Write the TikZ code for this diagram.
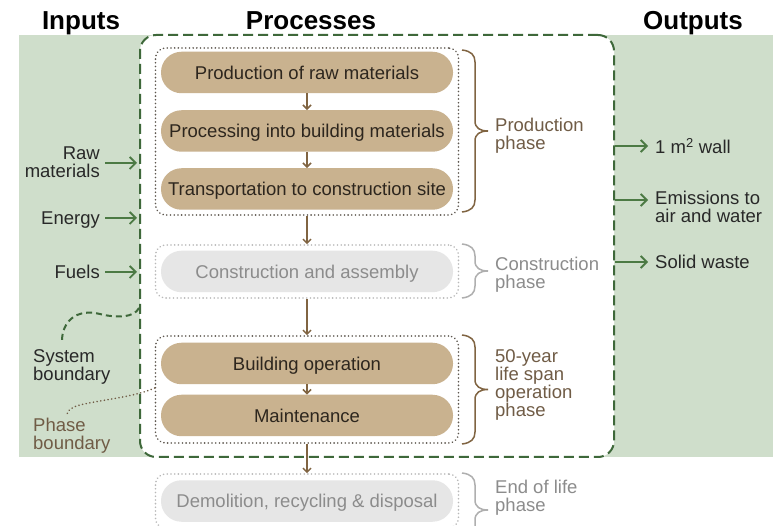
\documentclass[tikz,border=0pt]{standalone}
\usepackage{fontspec}
\setmainfont{Liberation Sans}
\usetikzlibrary{arrows.meta,calc}
\definecolor{bggreen}{RGB}{207,222,203}
\definecolor{sysgreen}{RGB}{62,104,58}
\definecolor{arrowgreen}{RGB}{76,122,68}
\definecolor{tanfill}{RGB}{201,178,143}
\definecolor{pilltext}{RGB}{45,38,30}
\definecolor{flowbrown}{RGB}{128,100,66}
\definecolor{phasebrown}{RGB}{112,92,70}
\definecolor{dotdark}{RGB}{95,88,80}
\definecolor{dotlight}{RGB}{185,185,185}
\definecolor{grayfill}{RGB}{230,230,230}
\definecolor{graytext}{RGB}{140,140,140}
\definecolor{graybrace}{RGB}{175,175,175}
\definecolor{darktext}{RGB}{40,40,40}
\newcommand\phbrace[3]{%
  \draw[#1, line width=1.5pt]
    (462,#2) .. controls (471,{#2+1}) and (475,{#2+5}) .. (475,{#2+12})
    -- (475,{(#2+#3)/2-10}) .. controls (475,{(#2+#3)/2-3}) and (480,{(#2+#3)/2}) .. (488,{(#2+#3)/2})
    .. controls (480,{(#2+#3)/2}) and (475,{(#2+#3)/2+3}) .. (475,{(#2+#3)/2+10})
    -- (475,{#3-12}) .. controls (475,{#3-5}) and (471,{#3-1}) .. (462,#3);}
\begin{document}
\begin{tikzpicture}[x=1pt,y=-1pt,
  txt/.style={font=\fontsize{18.5}{18}\selectfont, inner sep=0pt, text=darktext},
  hdr/.style={font=\fontsize{26}{28}\selectfont\bfseries, inner sep=0pt, anchor=base},
  pill/.style={txt, rectangle, rounded corners=20.5pt, minimum width=292pt, minimum height=41.5pt, text height=13.3pt, text depth=0pt},
  tanpill/.style={pill, fill=tanfill, text=pilltext},
  graypill/.style={pill, fill=grayfill, text=graytext},
  phasebox/.style={draw, rectangle, rounded corners=10pt, line width=1.7pt, line cap=round, dash pattern=on 0.1pt off 3.6pt, minimum width=303pt, inner sep=0pt},
  darkphase/.style={phasebox, draw=dotdark},
  lightphase/.style={phasebox, draw=dotlight},
  flow/.style={draw=flowbrown, line width=1.5pt, -{Straight Barb[length=4pt,width=8pt]}},
  io/.style={draw=arrowgreen, line width=1.8pt, -{Straight Barb[length=6pt,width=12pt]}},
  sysline/.style={draw=sysgreen, line width=2pt, dash pattern=on 10pt off 5pt},
  single/.style={txt, text depth=0pt}
]
\useasboundingbox (0,0) rectangle (782,526);
\fill[white] (0,0) rectangle (782,526);
% green input/output area
\fill[bggreen] (19,35) rectangle (773,457);
% system boundary
\node[sysline, fill=white, rectangle, rounded corners=16pt, minimum width=474pt, minimum height=422pt, inner sep=0pt] (sys) at (377,246) {};
% headers
\node[hdr] (hin) at (81,30) {Inputs};
\node[hdr] (hproc) at (311,30) {Processes};
\node[hdr] (hout) at (693,30) {Outputs};
% phase boxes
\node[darkphase, minimum height=167pt] (prodbox) at (307,131.5) {};
\node[lightphase, minimum height=53pt] (consbox) at (307,271.5) {};
\node[darkphase, minimum height=107pt] (operbox) at (307,389.5) {};
\node[lightphase, minimum height=54pt] (eolbox) at (307,501) {};
% process pills
\node[tanpill] (raw) at (307,72.5) {Production of raw materials};
\node[tanpill] (proc) at (307,131) {Processing into building materials};
\node[tanpill] (trans) at (307,189) {Transportation to construction site};
\node[graypill] (cons) at (307,271.5) {Construction and assembly};
\node[tanpill] (oper) at (307,363.5) {Building operation};
\node[tanpill] (maint) at (307,415.5) {Maintenance};
\node[graypill] (demo) at (307,501) {Demolition, recycling \& disposal};
% flow arrows
\draw[flow] (raw.south) -- (proc.north);
\draw[flow] (proc.south) -- (trans.north);
\draw[flow] (prodbox.south) -- (consbox.north);
\draw[flow] (consbox.south) -- (operbox.north);
\draw[flow] (oper.south) -- (maint.north);
\draw[flow] (operbox.south) -- (eolbox.north);
% braces
\phbrace{flowbrown}{50}{212}
\phbrace{graybrace}{244}{298}
\phbrace{flowbrown}{335}{444}
\phbrace{graybrace}{473}{547}
% phase labels
\node[txt, text=phasebrown, align=left, anchor=north west] (lprod) at (495,117.5) {Production\\phase};
\node[txt, text=graytext, align=left, anchor=north west] (lcons) at (495,256.5) {Construction\\phase};
\node[txt, text=phasebrown, align=left, anchor=north west] (loper) at (495,349.5) {50-year\\life span\\operation\\phase};
\node[txt, text=graytext, align=left, anchor=north west] (leol) at (495,479.5) {End of life\\phase};
% inputs
\node[txt, align=right, anchor=north east] (inraw) at (100,146.5) {Raw\\materials};
\node[single, anchor=east] (inen) at (100,218) {Energy};
\node[single, anchor=east] (infu) at (100,272) {Fuels};
\coordinate (rawPt) at (105,163);
\draw[io, shorten >=2pt] (rawPt) -- (rawPt -| sys.west);
\draw[io, shorten >=2pt, shorten <=5pt] (inen.east) -- (inen.east -| sys.west);
\draw[io, shorten >=2pt, shorten <=5pt] (infu.east) -- (infu.east -| sys.west);
% outputs
\node[single, anchor=west] (owall) at (655,146) {1 m\textsuperscript{2} wall};
\node[txt, align=left, anchor=north west] (oemis) at (655,190.5) {Emissions to\\air and water};
\node[single, anchor=west] (osolid) at (655,262) {Solid waste};
\coordinate (emisPt) at (648,200);
\draw[io] (owall.west -| sys.east) -- ([xshift=-7pt]owall.west);
\draw[io] (emisPt -| sys.east) -- (emisPt);
\draw[io] (osolid.west -| sys.east) -- ([xshift=-7pt]osolid.west);
% boundary legends
\node[txt, align=left, anchor=north west] (lsys) at (33,349.5) {System\\boundary};
\node[txt, text=phasebrown, align=left, anchor=north west] (lphase) at (33,417.5) {Phase\\boundary};
\coordinate (sysLeg) at (sys.west |- 0,308);
\draw[draw=sysgreen, line width=2pt, dash pattern=on 6pt off 4pt]
  (sysLeg) .. controls (134,318) and (116,318) .. (100,314)
  .. controls (76,308) and (62,322) .. (62,341);
\coordinate (phLeg) at (operbox.west |- 0,388);
\draw[draw=phasebrown, line width=1.7pt, line cap=round, dash pattern=on 0.1pt off 3.6pt]
  (phLeg) .. controls (135,397) and (100,400) .. (80,405)
  .. controls (72,407) and (68,410) .. (67,414);
\end{tikzpicture}
\end{document}
